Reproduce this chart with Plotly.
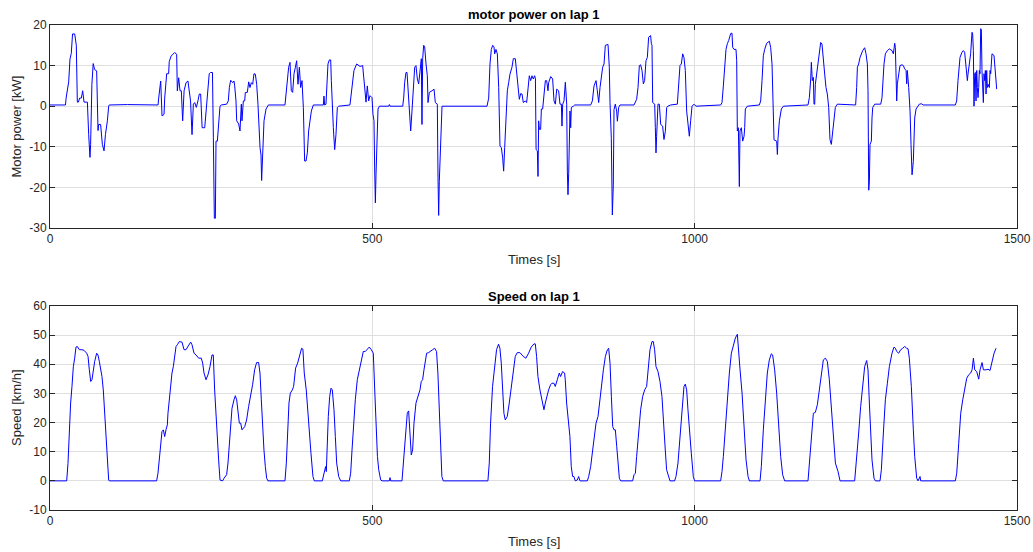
import plotly.graph_objects as go

# ---- data (time in s) ----
power_t = [0, 24, 25, 29, 31, 33, 35, 38.3, 40.8, 42.4, 44, 46, 48.6, 50.7, 52.8, 58, 60, 62, 63, 65, 67, 69.3, 72.4,
           74.5, 75.5, 78.5, 81.2, 83.8, 86, 89, 91, 92, 120, 140, 167.6,
           168.6, 171.7, 173.8, 176.9, 177.9, 181, 184, 185, 188, 193.4, 196.5, 197.5, 199.6, 201.7, 203.7, 205.8,
           208, 211, 214, 216, 218, 220.3, 222.4, 224.5, 227, 229.5, 231.6, 233.7, 236, 240, 242, 245, 247, 249, 252,
           253.4, 254.9, 256.5, 257.5, 259.6, 261.6, 263.7, 265.8, 274, 276.6, 278.2, 280.3, 283.4, 285.4, 286.5,
           288.5, 289.6, 292.7, 294.7, 296.8, 297.8, 299.9, 302, 303, 306.1, 308.2, 310.2, 312.3, 314.4, 316.4, 318.5,
           320.6, 322.6, 325.8, 327.3, 328.3, 329.9, 332, 335.1, 338.7, 364.5, 366.1, 368.1, 370.2, 372.3, 374.3,
           376.4, 378.5, 380.6, 382.6, 384.7, 386.8, 388.8, 390.9, 393, 395, 397.1, 399.2, 401.2, 403.3, 405.4, 408.5,
           424, 425, 426, 428.1, 429.2, 431.2, 433.3, 435.4, 436.4, 437.4, 439.5, 441.6, 443.6, 445.7, 447.8, 465.3,
           468.4, 471.5, 475.7, 478.3, 480.9, 485, 487.1, 489.1, 490.2, 492.2, 494.3, 496.4, 499.5, 501, 502.6, 503.6,
           504.7, 505.7, 507.3, 508.8, 510.9, 525.4, 526.4, 527.4, 547.1, 548.6, 550.2, 552.2, 553.8, 555.3, 557.4,
           559.5, 561.5, 563.6, 565.7, 567.7, 569.8, 571.9, 574, 576, 577, 578.1, 579.6, 581.2, 583.3, 585.3, 586.4,
           588.4, 592.6, 595.7, 597.7, 600.8, 601.9, 602.9, 603.9, 605.5, 607, 608.1, 677.9, 680.5, 682.5, 684.6,
           686.7, 688.7, 689.8, 691.8, 693.9, 696, 698, 700.1, 702.2, 703.7, 705.3, 707.3, 709.4, 711.5, 713.5, 716.6,
           718.7, 721.8, 723.9, 725.9, 728, 730.1, 732.2, 734.2, 737.3, 739.4, 741.5, 743.5, 745.6, 747.7, 749.7,
           751.8, 753, 754, 756, 757, 758, 759.1, 761.1, 762.2, 764.2, 766.3, 768.4, 770.4, 772.5, 773.5, 776.7,
           779.7, 781.8, 783.9, 786, 789, 791.1, 793.2, 794.2, 795.3, 797.3, 799.4, 801.5, 802.5, 803.5, 804.6, 805.6,
           806.6, 807.7, 808.7, 811.8, 814, 838.7, 841.3, 843.9, 847, 849, 851.1, 853.2, 855.2, 857.3, 859.4, 861.4,
           865.6, 867.6, 868.7, 870.7, 872.3, 873.8, 874.9, 876.9, 879, 880.1, 882.1, 884.2, 905.9, 908, 910, 912.1,
           914.2, 916.2, 918.3, 920.4, 922.4, 924.5, 926.6, 928.6, 931.7, 932.8, 933.8, 934.9, 938, 939, 940, 941,
           943.1, 945.2, 947.3, 950.3, 952.4, 954.5, 956.6, 958.6, 962.8, 973.1, 975.2, 977.2, 979.3, 981.4, 983.4,
           985.5, 987.6, 989.6, 991.7, 993.8, 995.9, 999, 1002, 1040.4, 1042.4, 1044.5, 1046.6, 1048.6, 1050.7,
           1052.8, 1055.9, 1057.9, 1059, 1061, 1064.1, 1065.2, 1066.2, 1067.8, 1069.3, 1070.3, 1072.4, 1074.5, 1076.6,
           1077.6, 1078.6, 1081.7, 1100.3, 1102.4, 1104.5, 1106.5, 1108.6, 1111.7, 1115.8, 1117.9, 1120, 1121,
           1123.1, 1127.2, 1128.3, 1129.3, 1131.4, 1134.5, 1137.6, 1175.8, 1177.9, 1180, 1181, 1182.5, 1184.1, 1185.1,
           1186.2, 1187.2, 1189.3, 1191.3, 1193.4, 1195.5, 1197.5, 1199.6, 1201.7, 1203.7, 1205.8, 1207.9, 1208.9,
           1209.9, 1212, 1214.1, 1216.1, 1218.2, 1221.3, 1249.7, 1251.3, 1252.4, 1254.4, 1256.5, 1260.6, 1263.7,
           1265.8, 1267.9, 1268.9, 1270, 1271, 1272, 1274.1, 1275.1, 1276.2, 1279.3, 1288.6, 1290.6, 1291.7, 1293.7,
           1295.8, 1298.9, 1302, 1306.1, 1308.2, 1310.3, 1311.3, 1312.3, 1313.4, 1314.4, 1316.5, 1318.5, 1321.6,
           1323.7, 1325.8, 1327.9, 1328.9, 1329.9, 1332, 1334.1, 1335.6, 1337.2, 1339.2, 1341.3, 1343.4, 1345.4,
           1348.5, 1351.6, 1354.7, 1404.4, 1406.4, 1408.5, 1411.6, 1414.7, 1416.8, 1418.8, 1420.9, 1421.9, 1423,
           1424, 1426.1, 1428.1, 1430.2, 1431.2, 1432.3, 1433.3, 1434.4, 1435.4, 1436.4, 1437.5, 1438.5, 1439.5,
           1440.6, 1441.6, 1442.6, 1443.7, 1444.7, 1445.7, 1446.8, 1447.8, 1448.8, 1449.9, 1450.9, 1452, 1453, 1454,
           1455.1, 1457.1, 1458.2, 1459.2, 1461.2, 1464.3, 1465.4, 1466.4, 1468.5]
power_kw = [0.3, 0.3, 2, 6, 11.6, 13, 17.8, 17.8, 15, 1, 1, 2, 2, 3.8, 1, 1, -7, -12.6, -9.4, 5.4, 10.5, 9, 8.7,
            -6, -4.5, -4.5, -9.4, -11, -7, -3.6, 0, 0.3, 0.4, 0.3, 0.3,
            2, 6.2, -2.4, -2, 2, 8, 8, 11, 12.4, 13.2, 12.8, 3.8, 7, 3.8, 3.8, -3.6,
            3.8, 5.8, 6.2, 3.4, 1.3, -7, 0.5, 0.9, -0.3, 1.3, 3, 3, -5.3, -5.3, -1.2, 3, 8, 8.3, 8.3,
            -7.8, -27.6, -27.6, -8.6, -8.6, -3.6, 0, 0.3, 0.5, 1.3, 4.6, 6.4, 5.8, 6.2, 5,
            1.3, -3.6, -4.4, -6.1, 0.5, -3.6, 1.3, 1.3, 3.4, 3.4, 6, 4.6, 5.8, 5.4, 8, 7.9,
            5.4, 0.5, -10.2, -12, -18.3, -12.7, -3.6, -0.7, 0.3, 0.3, 3, 6.7, 9.6, 10.8, 3.8,
            3.4, 8, 9.6, 11.2, 5.4, 9.6, 4.6, 6.3, -0.3, -13.5, -13.5, -11.5, -6.1, -3.6, -1.2, 0.3,
            0.3, 2.5, 0.3, 0.5, 3.8, 10.4, 11.4, 11.4, 6.3, 1.3, -5.3, -10.7, -7, -0.3, 0, 0.3,
            4.6, 8.8, 10.4, 10, 9.8, 10, 6.3, 4.6, 1, 5, 1.3, 2.6, 2.1, -2, -3.6, -15.2,
            -23.8, -16.9, -5.3, -0.7, 0, 0, 0.4, 0, 0, 2, 5.9, 8.3, 8.3, 3.8, -1.2,
            -6.1, -1.2, 4.6, 9.6, 10, 6.7, 5.5, 9.2, 11.7, -4.5, 11.7, 15, 14.6, 10.4, 7.5, 0.9,
            3.4, 3.8, 4.2, 0.9, 0.5, -17.7, -26.9, -18.5, -12.8, -6.2, 0, 0, 2, 10.4, 14,
            15, 14.6, 12.9, 14, 12.9, 4.6, -9.8, -10.2, -12.7, -16, -10.2, -2, 3.8, 5.8, 7.9, 9.6,
            11.7, 11.7, 7.9, 5.8, 1.7, 3.1, 3, 0.9, 1.3, 0.9, 5.5, 7.5, 6.3, 7.5, 6.7,
            7.5, 6.7, -10.7, -11, -17.3, -3.6, -5.7, -5.7, -0.7, -0.7, 3.8, 6.3, 6.3, 3.8, 5.8, 7.3,
            6.7, 1.3, 0.5, 4.2, 3.8, 0.5, 0.5, -4.9, 0.5, 1.3, 5.9, 0.5, -16, -21.8, -16.5, -6.2,
            -1.2, -5.3, -0.3, 0, 0.3, 0.3, 1.3, 5, 6.3, 3.8, 0.9, 4.6, 6.7, 9.6, 10.4, 15,
            15.2, 9.6, 0.9, -7.9, -26.8, -19.4, -0.8, 0.5, -1.2, -3.7, -0.3, 0.3, 0.3, 1.3, 1.7, 4.6,
            10, 10.2, 8.8, 5.5, 6.3, 11.2, 12, 17, 17.4, 15.4, 15, 0.9, 0.5, -5.3, -11.5, -7.4,
            0.5, 0.5, -4.5, -4.9, -8.2, -6.2, -0.3, 0, 0.3, 0.5, 7.1, 10, 10.4, 12.9, 12,
            8.8, -1.2, -5.3, -7.4, -3.6, 0, 0.5, 0, 0.3, 0.9, 5, 10.4, 14, 15.4,
            16.2, 17.9, 18, 14.5, 14, 14, 11.2, -6.1, -5.3, -19.8, -6.1, -5.3, -8.6, -7.4,
            -5.3, -0.7, 0, 0.3, 1.3, 6.3, 12.4, 14, 15.5, 16, 14.5, 10.4, 1.3,
            -8.3, -8.6, -11.9, -7.9, -3.6, -0.7, 0, 0.3, 2.1, 6.7, 10.8, 6.3, 7.1, 0.5,
            0.5, 5.4, 7.9, 10.4, 13.2, 15.7, 15.3, 10.4, 7.9, 4.6, 3, -0.3, -3.6,
            -8.2, -9.4, -6.1, -3.7, -0.3, 0.5, 0.3, 4.6, 9.6, 10.4, 12, 13.7, 14.4,
            12.9, 10.4, 3.8, -20.7, -18.5, -9.4, -8.6, -2.9, -0.3, 0.5, 0.5, 2.1, 6.3, 10.4,
            12.9, 13.7, 14.1, 13.7, 12.9, 15.5, 14.5, 1.3, 1.3, 5.5, 7.9, 10, 10.2,
            10, 9.2, 8.8, 5.5, 8.8, 4.6, -1.2, -9.4, -16.9, -13.6, -2.9, -0.7, -0.2,
            0.5, 0.6, 0.3, 0.3, 1.3, 6.3, 12, 13.3, 13.7, 13.3, 10.4, 7.9, 6.3,
            7.9, 10.4, 12.9, 18.2, 17.8, 13.7, 0, 8, 8.3, 1.3, 8.8, 4.6, 2.1,
            4.6, 8.8, 8, 19.1, 18.8, 8.8, 4.6, 0.9, 8, 6.3, 8.8, 3, 8.8, 4.6,
            5.4, 4.6, 8.8, 8, 12.9, 12.5, 10.4, 8.8, 4.2]

speed_t = [0, 25.9, 27.9, 30, 32, 34.1, 36.2, 38.3, 40.3, 42.4, 45.5, 49.6, 52.7, 56.9, 59, 61, 63.1, 65.1, 67.2,
           69.3, 72.4, 74.4, 76.5, 78.6, 80.6, 82.7, 84.8, 86.9, 88.9, 91, 92, 165.4, 167.5, 169.6, 171.7, 173.7,
           175.8, 177.9, 179.9, 182, 183, 185.1, 187.2, 189.2, 191.3, 193.4, 195.5, 197.5, 200.6, 204.8, 207.9,
           210.9, 214.1, 218.2, 220.3, 223.4, 226.5, 230.6, 234.7, 236.8, 238.9, 242, 245.1, 248.2, 251.3, 253.3,
           255.4, 257.5, 259.6, 261.6, 263.7, 267.8, 269.9, 273, 274, 276.1, 278.2, 280.3, 282.3, 285.4, 287.5,
           289.6, 291.6, 293.7, 295.8, 297.8, 302, 305, 308.1, 311.2, 314.3, 317.4, 320.5, 323.6, 325.7, 327.8,
           329.9, 331.9, 334, 336.1, 338.1, 364.5, 366.6, 368.6, 370.7, 372.8, 375.9, 377.9, 381, 384.1, 387.2,
           390.3, 392.3, 394.4, 397.5, 399.6, 401.7, 404.8, 407.9, 410, 422.4, 425.5, 427.5, 428.6, 429.7, 431.7,
           433.8, 435.9, 437.9, 440.5, 442.6, 444.7, 447.8, 450.9, 464.3, 466.4, 468.5, 470.5, 473.6, 476.7, 479.8,
           482.9, 486, 489.1, 492.2, 495.3, 498.4, 501.5, 503.7, 505.8, 507.9, 509.9, 513, 515, 526.4, 527.4, 528.5,
           546, 548, 550.1, 552.1, 554.2, 556.3, 558.3, 560.4, 562.5, 564.6, 567.7, 570.8, 573.9, 575.9, 578, 580.1,
           582.1, 584.2, 587.3, 590.5, 593.5, 596.6, 599.6, 601.7, 603.8, 605.9, 607.9, 610, 679.3, 681.4, 683.4,
           686.5, 689.6, 692.7, 695.8, 697.9, 700, 702, 704.1, 706.2, 709.3, 712.4, 715.5, 718.6, 721.7, 724.8,
           728.9, 734.1, 738.2, 742.4, 746.5, 750.7, 752.8, 754.8, 756.9, 760, 763.1, 766.2, 768.3, 770.3, 773.4,
           776.5, 778.6, 781.7, 783.8, 786.9, 790, 792, 795.1, 798.2, 799.3, 801.4, 804.5, 806.5, 808.6, 810.7,
           812.7, 814.8, 818, 820, 822.1, 833.5, 835.6, 838.7, 841.8, 844.9, 847, 850.1, 852.2, 855.3, 858.4, 861.5,
           864.6, 866.6, 868.7, 870.8, 872.9, 874.9, 877, 879.1, 881.1, 883.2, 885.2, 903.8, 905.9, 908, 910, 913.1,
           916.2, 919.3, 922.4, 925.5, 927.6, 930.7, 933.8, 935.8, 937.9, 940, 943.1, 946.2, 949.3, 952.4, 954.4,
           956.5, 959.6, 961.7, 968.9, 971, 974.1, 977.2, 979.3, 981.4, 983.4, 985.5, 987.6, 989.6, 991.7, 994.8,
           997.9, 1000, 1040.3, 1042.4, 1044.5, 1047.6, 1050.7, 1053.8, 1056.9, 1060, 1063.1, 1066.2, 1068.3, 1070.4,
           1073.5, 1076.6, 1079.7, 1082.8, 1084.9, 1101.4, 1103.4, 1106.5, 1109.6, 1112.7, 1115.8, 1118.9, 1121,
           1124.1, 1127.2, 1130.3, 1133.4, 1136.5, 1139.6, 1175.8, 1177.9, 1181, 1184.1, 1187.2, 1190.3, 1193.4,
           1196.5, 1199.6, 1202.7, 1205.8, 1208.9, 1212, 1215.2, 1218.3, 1222.4, 1225.5, 1248.2, 1251.3, 1254.4,
           1257.5, 1260.6, 1263.7, 1266.8, 1268.9, 1271, 1273.1, 1275.1, 1278.2, 1280.3, 1287.5, 1289.6, 1292.7,
           1295.8, 1298.9, 1302, 1306.1, 1309.2, 1311.3, 1313.4, 1316.5, 1319.6, 1322.7, 1325.8, 1328.9, 1331, 1333,
           1336.1, 1339.2, 1341.3, 1344.4, 1346.5, 1349.6, 1350.6, 1404.4, 1406.5, 1409.6, 1412.7, 1415.8, 1418.9,
           1422, 1425.1, 1428.2, 1430.3, 1432.4, 1434.4, 1437.5, 1440.6, 1442.7, 1445.8, 1447.9, 1452, 1455.1,
           1458.2, 1461.3, 1464.4, 1467.5]
speed_kmh = [0, 0, 6, 17.5, 26.7, 32.4, 39.2, 42.1, 45.9, 46.1, 45, 45, 44.8, 43.8, 42.7, 38.1, 34.1, 34.7, 38.1,
             41, 43.8, 43.2, 41, 38.1, 35.8, 31.2, 23.2, 15.2, 6.1, 0.3, 0, 0, 2.6, 8.4, 13.5, 16.9,
             17.5, 15.2, 17.5, 19.2, 23.2, 28.9, 33.5, 37, 39.2, 43.2, 46.1, 46.7, 47.8, 47.6, 45,
             45, 46.3, 47.6, 46.7, 43.8, 43.2, 42.1, 42.1, 40.4, 37, 34.7, 36.4, 39.2, 43.2, 43.2,
             31.2, 22.1, 15.2, 7.2, 0.3, 0, 0.9, 1.7, 2.1, 6.1, 12.9, 20.9, 24.9, 27.8, 29.2,
             27.8, 22.7, 19.8, 19.8, 17.5, 18.6, 20.9, 25.5, 28.9, 33, 38.1, 40.6, 40.6, 37, 27.8,
             17.5, 10.6, 4.9, 0.9, 0, 0, 6.1, 17.5, 26.7, 30.1, 31.2, 32.4, 38.7, 40.4, 43.2,
             45.5, 45.2, 37, 31.2, 24.4, 17.5, 9.5, 1.5, 0, 0, 3.8, 4.9, 3.2, 12.9, 22.1,
             28.9, 31.8, 31.2, 24.4, 15.2, 6.1, 1.5, 0, 0, 2.6, 10.6, 18.6, 27.8, 34.7, 38.1,
             41.5, 44.4, 44.4, 45, 45.9, 45, 43.8, 31.2, 17.5, 8.4, 3.8, 0.3, 0, 0, 1.1, 0,
             0, 6.1, 11.8, 18.6, 23.2, 24, 17.5, 8.9, 10.6, 19.8, 26.7, 28.9, 31.2, 34.1, 34.7, 38.1,
             41.5, 43.8, 44, 44.4, 45, 45.5, 44.4, 37, 23.2, 9.5, 1.5, 0, 0, 6.1, 19.8,
             32.4, 39.8, 45, 46.9, 45.5, 40.4, 32.4, 23.2, 20.9, 22.1, 26.7, 32.4, 38.7, 42.7, 44,
             44, 42.7, 42.1, 43.8, 45.9, 47, 47, 42.7, 35.8, 31.2, 27.8, 24.4, 26.7, 28.9, 31.2,
             33, 33.5, 33.5, 32.4, 34.7, 37, 35.8, 37.5, 37, 34.7, 26.7, 19.8, 15.2, 4.9, 1.5,
             1.5, 0, 0.3, 1.5, 0, 0, 1.5, 4.9, 10.6, 16.4, 19.8, 22.1, 26.7, 32.4, 38.1, 42.7,
             45, 45.5, 40.4, 28.9, 18.6, 17.5, 17.5, 11.8, 4.9, 0.9, 0, 0, 2.1, 2.6, 8.4, 17.5,
             24.4, 28.9, 31.2, 32.4, 38.1, 45, 47.8, 47.8, 45, 39.2, 37.5, 34.1, 28.9, 19.8, 10.6,
             3.8, 0.9, 0, 0, 1.5, 6.1, 14.1, 20.9, 27.8, 32.4, 33.2, 31.2, 24.4, 17.5, 9.5,
             1.5, 0, 0, 3.2, 8.4, 18.6, 28.9, 37, 43.8, 46.1, 49, 50.3, 42.7, 38.1,
             30.1, 17.5, 7.2, 1.5, 0, 0, 4.9, 17.5, 27.8, 37, 41.5, 43.6, 43.2,
             38.1, 30.1, 19.8, 8.4, 2.1, 0, 0, 6.1, 17.5, 23.2, 23.5, 26.1, 31.2,
             37, 41.5, 42.1, 41, 34.7, 24.4, 12.9, 6.1, 3.2, 0, 0, 7.2, 16.4,
             25.5, 33.5, 39.2, 41.3, 38.1, 26.7, 15.2, 7.2, 0.9, 0, 0, 3.8, 16.4,
             27.8, 33.5, 39.2, 43.8, 45.9, 45.5, 44.4, 43.8, 45, 45.5, 46.1, 45.5, 45.3, 42.1,
             32.4, 17.5, 8.4, 0.9, 0, 1.5, 0, 0, 2.6, 12.9, 23.2, 27.8, 31.8,
             35.2, 36.4, 37, 38.1, 42.1, 38.1, 37.5, 34.9, 38.1, 40.6, 38.1, 38.1, 38.3,
             37.9, 41, 43.8, 45.5]

x_ticks = [0, 500, 1000, 1500]
x_tick_labels = ["0", "500", "1000", "1500"]
p_ticks = [-30, -20, -10, 0, 10, 20]
p_tick_labels = ["-30", "-20", "-10", "0", "10", "20"]
v_ticks = [-10, 0, 10, 20, 30, 40, 50, 60]
v_tick_labels = ["-10", "0", "10", "20", "30", "40", "50", "60"]

# Figure fills the whole 1033x552 window; the page margin is removed in post_script.
W, H = 1033, 552
L, R = 50, 1017
AX = "#262626"
GRID = "#DFDFDF"
FONT = "Liberation Sans, Arial, Helvetica, sans-serif"

fig = go.Figure()
fig.add_trace(go.Scatter(x=power_t, y=power_kw, mode="lines",
                         line=dict(color="#0000FF", width=1), xaxis="x", yaxis="y", showlegend=False))
fig.add_trace(go.Scatter(x=speed_t, y=speed_kmh, mode="lines",
                         line=dict(color="#0000FF", width=1), xaxis="x2", yaxis="y2", showlegend=False))


def py(px):
    # target pixel row -> paper fraction
    return 1 - px / H


def xax(anchor):
    return dict(range=[0, 1500], tickvals=x_ticks, ticktext=x_tick_labels, domain=[0, 1],
                anchor=anchor, showline=True, linecolor=AX, linewidth=1, mirror="ticks",
                ticks="inside", ticklen=5, tickcolor=AX, showgrid=True, gridcolor=GRID,
                gridwidth=1, zeroline=False, tickfont=dict(family=FONT, size=12, color=AX),
                fixedrange=True)


def yax(anchor, rng, tv, tt, dom):
    return dict(range=rng, tickvals=tv, ticktext=tt, domain=dom, anchor=anchor,
                showline=True, linecolor=AX, linewidth=1, mirror="ticks", ticks="inside",
                ticklen=5, tickcolor=AX, showgrid=True, gridcolor=GRID, gridwidth=1,
                zeroline=False, tickfont=dict(family=FONT, size=12, color=AX), fixedrange=True)


fig.update_layout(
    width=W, height=H,
    margin=dict(l=L, r=W - R, t=0, b=0, autoexpand=False),
    paper_bgcolor="white", plot_bgcolor="white",
    font=dict(family=FONT, color=AX),
    hovermode=False,
    xaxis=xax("y"),
    yaxis=yax("x", [-30, 20], p_ticks, p_tick_labels, [py(228), py(25)]),
    xaxis2=xax("y2"),
    yaxis2=yax("x2", [-10, 60], v_ticks, v_tick_labels, [py(510), py(306)]),
)

ylab_x = (16 - L) / (R - L)
ann = [
    dict(text="<b>motor power on lap 1</b>", x=0.5, y=py(14), angle=0),
    dict(text="<b>Speed on lap 1</b>", x=0.5, y=py(296), angle=0),
    dict(text="Times [s]", x=0.5, y=py(259), angle=0),
    dict(text="Times [s]", x=0.5, y=py(541), angle=0),
    dict(text="Motor power [kW]", x=ylab_x, y=py(126.5), angle=-90),
    dict(text="Speed [km/h]", x=ylab_x, y=py(408), angle=-90),
]
for a in ann:
    fig.add_annotation(text=a["text"], x=a["x"], y=a["y"], xref="paper", yref="paper",
                       xanchor="center", yanchor="middle", showarrow=False, textangle=a["angle"],
                       font=dict(family=FONT, size=13, color="#000000" if "<b>" in a["text"] else AX))

fig.write_html("out.html",
               config={"displayModeBar": False, "staticPlot": True},
               post_script="document.body.style.margin='0px';"
                           "document.documentElement.style.overflow='hidden';"
                           "document.body.style.overflow='hidden';")
